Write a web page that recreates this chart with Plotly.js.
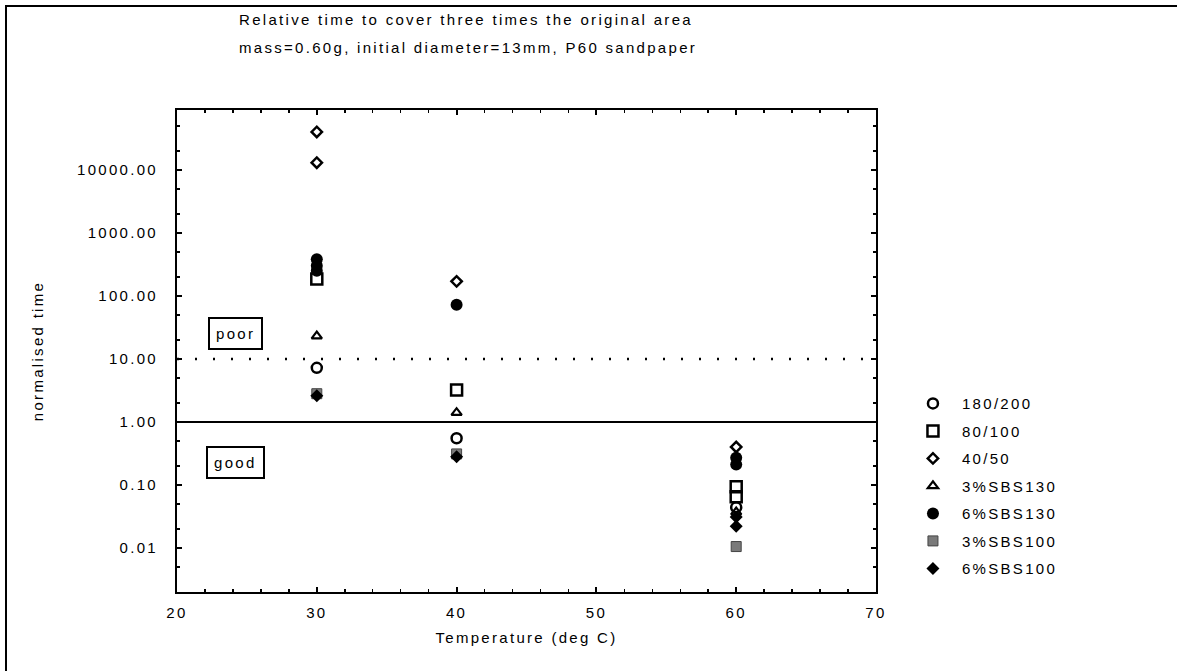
<!DOCTYPE html>
<html>
<head>
<meta charset="utf-8">
<script src="https://cdn.plot.ly/plotly-3.0.1.min.js"></script>
<style>
  html, body { margin: 0; padding: 0; background: #fff; }
  #frame { position: absolute; left: 5px; top: 5px; width: 1190px; height: 690px; border: 2px solid #000; box-sizing: border-box; }
  #chart { position: absolute; left: 0; top: 0; width: 1177px; height: 671px; }
  svg text { letter-spacing: 2.3px; }
</style>
</head>
<body>
<div id="frame"></div>
<div id="chart"></div>
<script>
// ---- data ----
const seriesNames = ["180/200", "80/100", "40/50", "3%SBS130", "6%SBS130", "3%SBS100", "6%SBS100"];

const x_180_200 = [30, 40, 60];
const y_180_200 = [7.2, 0.55, 0.044];

const x_80_100 = [30, 40, 60, 60];
const y_80_100 = [185, 3.2, 0.093, 0.065];

const x_40_50 = [30, 30, 40, 60];
const y_40_50 = [40000, 13000, 170, 0.40];

const x_3SBS130 = [30, 40, 60];
const y_3SBS130 = [23, 1.4, 0.037];

const x_6SBS130 = [30, 30, 30, 40, 60, 60];
const y_6SBS130 = [380, 300, 250, 72, 0.27, 0.21];

const x_3SBS100 = [30, 40, 60];
const y_3SBS100 = [2.8, 0.31, 0.0105];

const x_6SBS100 = [30, 40, 60, 60];
const y_6SBS100 = [2.6, 0.28, 0.031, 0.022];

const yTickVals = [0.01, 0.1, 1, 10, 100, 1000, 10000];
const yTickText = ["0.01", "0.10", "1.00", "10.00", "100.00", "1000.00", "10000.00"];
const xTickVals = [20, 30, 40, 50, 60, 70];
const xTickText = ["20", "30", "40", "50", "60", "70"];

const poorLevel = 10;
const goodLevel = 1;

const titleLine1 = "Relative time to cover three times the original area";
const titleLine2 = "mass=0.60g, initial diameter=13mm, P60 sandpaper";

// ---- styling ----
const FONT = "Liberation Sans, Arial, sans-serif";
const xs = [x_180_200, x_80_100, x_40_50, x_3SBS130, x_6SBS130, x_3SBS100, x_6SBS100];
const ys = [y_180_200, y_80_100, y_40_50, y_3SBS130, y_6SBS130, y_3SBS100, y_6SBS100];
const markers = [
  {symbol: "circle-open", size: 10, color: "#000", line: {width: 2.5, color: "#000"}},
  {symbol: "square-open", size: 11, color: "#000", line: {width: 2.5, color: "#000"}},
  {symbol: "diamond-open", size: 8, color: "#000", line: {width: 2.5, color: "#000"}},
  {symbol: "triangle-up-open", size: 9, color: "#000", line: {width: 2.2, color: "#000"}},
  {symbol: "circle", size: 12, color: "#000", line: {width: 0}},
  {symbol: "square", size: 10, color: "#7a7a7a", line: {width: 1, color: "#444"}},
  {symbol: "diamond", size: 10, color: "#000", line: {width: 0}}
];

const traces = seriesNames.map((n, i) => ({
  type: "scatter", mode: "markers", name: n,
  x: xs[i], y: ys[i], marker: markers[i],
  legendgroup: "g" + i, cliponaxis: false
}));

const layout = {
  width: 1177, height: 671,
  margin: {l: 177, r: 301, t: 110, b: 79},
  paper_bgcolor: "rgba(0,0,0,0)", plot_bgcolor: "rgba(0,0,0,0)",
  font: {family: FONT, size: 15, color: "#000"},
  showlegend: true,
  legend: {
    x: 1.04, xanchor: "left", y: 0.425, yanchor: "top",
    font: {family: FONT, size: 15, color: "#000"},
    tracegroupgap: 5, itemwidth: 48, bgcolor: "rgba(0,0,0,0)"
  },
  xaxis: {
    range: [20, 70], tickvals: xTickVals, ticktext: xTickText,
    ticks: "inside", ticklen: 5, tickwidth: 2, tickcolor: "#000",
    minor: {dtick: 2, ticks: "inside", ticklen: 3, tickwidth: 1.5, tickcolor: "#000", showgrid: false},
    showline: true, linewidth: 2, linecolor: "#000", mirror: "ticks",
    showgrid: false, zeroline: false,
    ticklabelstandoff: 6,
    title: {text: "Temperature (deg C)", font: {family: FONT, size: 15}, standoff: 12}
  },
  yaxis: {
    type: "log", range: [-2.70, 4.95],
    tickvals: yTickVals, ticktext: yTickText,
    ticks: "inside", ticklen: 5, tickwidth: 2, tickcolor: "#000",
    minor: {ticks: "inside", ticklen: 3, tickwidth: 1.5, tickcolor: "#000", showgrid: false},
    showline: true, linewidth: 2, linecolor: "#000", mirror: "ticks",
    showgrid: false, zeroline: false,
    ticklabelstandoff: 14,
    title: {text: "normalised time", font: {family: FONT, size: 15}, standoff: 30}
  },
  shapes: [
    {type: "line", xref: "x", yref: "y", x0: 20, x1: 70, y0: poorLevel, y1: poorLevel,
     line: {color: "#000", width: 2.5, dash: "2px,16px"}},
    {type: "line", xref: "x", yref: "y", x0: 20, x1: 70, y0: goodLevel, y1: goodLevel,
     line: {color: "#000", width: 2}}
  ],
  annotations: [
    {text: "poor", xref: "x", yref: "y", x: 24.2, y: Math.log10(25), showarrow: false,
     bordercolor: "#000", borderwidth: 2, borderpad: 6, bgcolor: "#fff", font: {family: FONT, size: 15}},
    {text: "good", xref: "x", yref: "y", x: 24.2, y: Math.log10(0.23), showarrow: false,
     bordercolor: "#000", borderwidth: 2, borderpad: 6, bgcolor: "#fff", font: {family: FONT, size: 15}},
    {text: titleLine1, xref: "paper", yref: "paper", x: 0.0858, y: 1.187, xanchor: "left", yanchor: "middle",
     showarrow: false, font: {family: FONT, size: 15}},
    {text: titleLine2, xref: "paper", yref: "paper", x: 0.0858, y: 1.129, xanchor: "left", yanchor: "middle",
     showarrow: false, font: {family: FONT, size: 15}}
  ]
};

Plotly.newPlot("chart", traces, layout, {displayModeBar: false, staticPlot: true});
</script>
</body>
</html>
